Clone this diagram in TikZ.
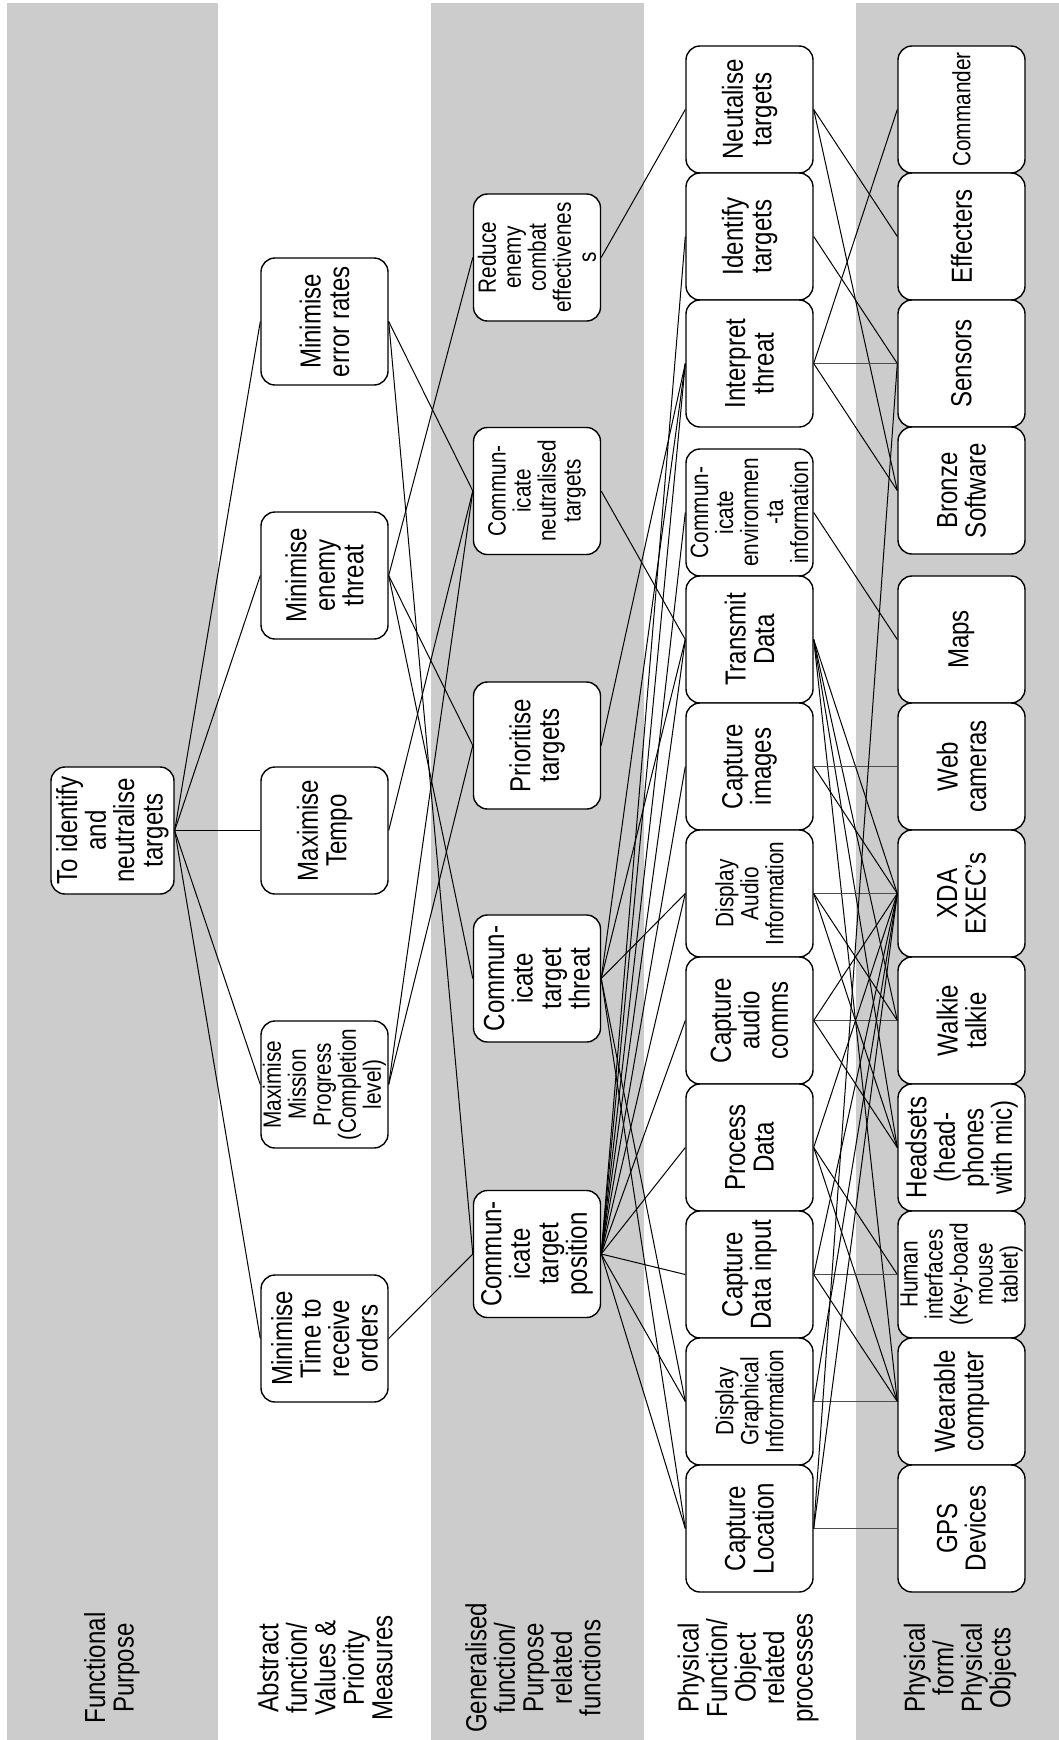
\documentclass[tikz,border=0pt]{standalone}
\usepackage{fontspec}
\setmainfont{Liberation Sans}[FakeStretch=0.83]
\definecolor{bandgray}{RGB}{204,204,204}
\begin{document}
\begin{tikzpicture}[x=1pt,y=-1pt,
  box/.style={draw=black, line width=1.4pt, rounded corners=14pt, fill=white, rotate=90,
    minimum width=127pt, minimum height=127pt, inner sep=1pt, align=center,
    font=\fontsize{29}{28.5}\selectfont},
  sbox/.style={box, font=\fontsize{25}{25}\selectfont},
  lbl/.style={rotate=90, align=center, font=\fontsize{29}{28.5}\selectfont},
  con/.style={line width=1pt, black},
  hcon/.style={line width=1.8pt, black!70}]
\useasboundingbox (0,0) rectangle (1059,1740);
\fill[white] (0,0) rectangle (1059,1740);
\fill[bandgray] (7,3) rectangle (218,1740);
\fill[bandgray] (431,3) rectangle (644,1740);
\fill[bandgray] (856,3) rectangle (1059,1740);

% level labels
\node[lbl] (l1) at (112,1668) {Functional\\Purpose};
\node[lbl] (l2) at (325,1668) {Abstract\\function/\\Values \&\\Priority\\Measures};
\node[lbl] (l3) at (533,1668) {Generalised\\function/\\Purpose\\related\\functions};
\node[lbl] (l4) at (748,1668) {Physical\\Function/\\Object\\related\\processes};
\node[lbl] (l5) at (960,1668) {Physical\\form/\\Physical\\Objects};

% functional purpose
\node[box, minimum height=123pt] (root) at (112.5,830.5) {To identify\\and\\neutralise\\targets};

% abstract function
\node[box] (err) at (324.5,321.5) {Minimise\\error rates};
\node[box] (enemy) at (324.5,575.5) {Minimise\\enemy\\threat};
\node[box] (tempo) at (324.5,830.5) {Maximise\\Tempo};
\node[sbox] (mission) at (324.5,1084.5) {Maximise\\Mission\\Progress\\(Completion\\level)};
\node[box] (time) at (324.5,1338.5) {Minimise\\Time to\\receive\\orders};

% generalised function
\node[sbox] (reduce) at (537,257.5) {Reduce\\enemy\\combat\\effectivenes\\s};
\node[sbox] (cneut) at (537,491) {Commun-\\icate\\neutralised\\targets};
\node[box] (prio) at (537,745.5) {Prioritise\\targets};
\node[box] (cthreat) at (537,978.5) {Commun-\\icate\\target\\threat};
\node[box] (cpos) at (537,1254) {Commun-\\icate\\target\\position};

% physical function
\node[box] (neut) at (749.5,109.5) {Neutalise\\targets};
\node[box] (ident) at (749.5,236.5) {Identify\\targets};
\node[box] (interp) at (749.5,363.5) {Interpret\\threat};
\node[sbox] (cenv) at (749.5,512.5) {Commun-\\icate\\environmen\\-ta\\information};
\node[box] (transmit) at (749.5,639.5) {Transmit\\Data};
\node[box] (cimg) at (749.5,766.5) {Capture\\images};
\node[sbox] (daudio) at (749.5,893.5) {Display\\Audio\\Information};
\node[box] (caudio) at (749.5,1020.5) {Capture\\audio\\comms};
\node[box] (proc) at (749.5,1147.5) {Process\\Data};
\node[box] (cdata) at (749.5,1274.5) {Capture\\Data input};
\node[sbox] (dgraph) at (749.5,1401.5) {Display\\Graphical\\Information};
\node[box] (cloc) at (749.5,1528.5) {Capture\\Location};

% physical form
\node[sbox] (commander) at (961.5,109.5) {Commander};
\node[box] (effect) at (961.5,236.5) {Effecters};
\node[box] (sensors) at (961.5,363.5) {Sensors};
\node[box] (bronze) at (961.5,490.5) {Bronze\\Software};
\node[box] (maps) at (961.5,639.5) {Maps};
\node[box] (web) at (961.5,766.5) {Web\\cameras};
\node[box] (xda) at (961.5,893.5) {XDA\\EXEC’s};
\node[box] (walkie) at (961.5,1020.5) {Walkie\\talkie};
\node[box] (head) at (961.5,1147.5) {Headsets\\(head-\\phones\\with mic)};
\node[sbox] (human) at (961.5,1274.5) {Human\\interfaces\\(Key-board\\mouse\\tablet)};
\node[box] (wear) at (961.5,1401.5) {Wearable\\computer};
\node[box] (gps) at (961.5,1528.5) {GPS\\Devices};

% connectors: right edge = south anchor, left edge = north anchor (rotated nodes)
\foreach \b in {err,enemy,mission,time} \draw[con] (root.south) -- (\b.north);
\draw[con] (root.south) -- (tempo.north);

\draw[con] (err.south) -- (cneut.north);
\draw[con] (err.south) -- (cpos.north);
\draw[con] (enemy.south) -- (reduce.north);
\draw[con] (enemy.south) -- (prio.north);
\draw[con] (enemy.south) -- (cthreat.north);
\draw[con] (tempo.south) -- (cneut.north);
\draw[con] (mission.south) -- (cneut.north);
\draw[con] (mission.south) -- (prio.north);
\draw[con] (time.south) -- (cpos.north);

\draw[con] (reduce.south) -- (neut.north);
\draw[con] (cneut.south) -- (transmit.north);
\draw[con] (prio.south) -- (interp.north);
\foreach \b in {interp,transmit,daudio,dgraph,cloc} \draw[con] (cthreat.south) -- (\b.north);
\foreach \b in {ident,interp,cenv,transmit,cimg,daudio,caudio,proc,cdata,dgraph,cloc} \draw[con] (cpos.south) -- (\b.north);

\draw[con] (neut.south) -- (effect.north);
\draw[con] (neut.south) -- (bronze.north);
\draw[con] (ident.south) -- (sensors.north);
\draw[con] (interp.south) -- (commander.north);
\draw[hcon] (interp.south) -- (sensors.north);
\draw[con] (interp.south) -- (bronze.north);
\draw[con] (cenv.south) -- (maps.north);
\foreach \b in {xda,walkie,head,wear} \draw[con] (transmit.south) -- (\b.north);
\draw[hcon] (cimg.south) -- (web.north);
\draw[con] (cimg.south) -- (xda.north);
\draw[hcon] (daudio.south) -- (xda.north);
\draw[con] (daudio.south) -- (walkie.north);
\draw[con] (daudio.south) -- (head.north);
\draw[hcon] (caudio.south) -- (walkie.north);
\draw[con] (caudio.south) -- (xda.north);
\draw[con] (caudio.south) -- (head.north);
\draw[con] (proc.south) -- (xda.north);
\draw[con] (proc.south) -- (human.north);
\draw[con] (proc.south) -- (wear.north);
\draw[hcon] (cdata.south) -- (human.north);
\draw[con] (cdata.south) -- (wear.north);
\draw[con] (cdata.south) -- (xda.north);
\draw[hcon] (dgraph.south) -- (wear.north);
\draw[con] (dgraph.south) -- (xda.north);
\draw[hcon] (cloc.south) -- (gps.north);
\draw[con] (cloc.south) -- (xda.north);
\draw[con] (cloc.south) -- (sensors.north);
\end{tikzpicture}
\end{document}
